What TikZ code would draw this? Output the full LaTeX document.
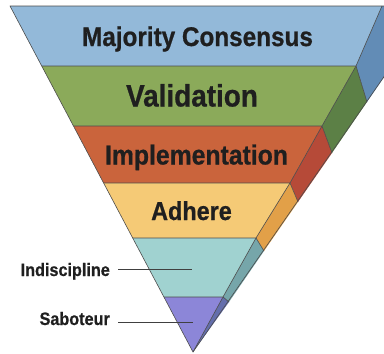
\documentclass[tikz,border=0pt]{standalone}
\usepackage{fontspec}
\usepackage{xcolor}
\usepackage{tikz}
\newfontfamily\tierfont{Liberation Sans}[FakeStretch=0.9, BoldFeatures={FakeBold=0.7}]

\definecolor{bluefront}{RGB}{147,185,217}
\definecolor{blueside}{RGB}{98,140,182}
\definecolor{greenfront}{RGB}{139,170,90}
\definecolor{greenside}{RGB}{92,128,70}
\definecolor{orangefront}{RGB}{202,100,60}
\definecolor{orangeside}{RGB}{182,74,56}
\definecolor{yellowfront}{RGB}{245,202,118}
\definecolor{yellowside}{RGB}{226,160,72}
\definecolor{tealfront}{RGB}{160,210,208}
\definecolor{tealside}{RGB}{118,166,170}
\definecolor{purplefront}{RGB}{140,134,216}
\definecolor{purpleside}{RGB}{100,110,172}

\begin{document}
\begin{tikzpicture}[x=1pt,y=-1pt,
            edge/.style={draw=black!70, line width=0.6pt, line join=round},
            leader/.style={draw=black!75, line width=0.9pt},
            tier/.style={font=\tierfont\bfseries\fontsize{#1}{#1}\selectfont, text=black!88, inner sep=0pt, anchor=base}]
				\useasboundingbox (0,0) rectangle (384,354);
				\clip (0,0) rectangle (384,354);

				% left edge, front right edge, outer edge
				\coordinate (L0) at (10,6);    \coordinate (F0) at (382,6);   \coordinate (O0) at (433,6);
				\coordinate (L1) at (41.7,66); \coordinate (F1) at (356,66);  \coordinate (O1) at (367,102);
				\coordinate (L2) at (73.5,126);\coordinate (F2) at (322,126); \coordinate (O2) at (332,153);
				\coordinate (L3) at (103.6,183);\coordinate (F3) at (290,183);\coordinate (O3) at (298,202);
				\coordinate (L4) at (132.7,238);\coordinate (F4) at (256,238);\coordinate (O4) at (264,251);
				\coordinate (L5) at (164,297); \coordinate (F5) at (223,297);  \coordinate (O5) at (229,302);
				\coordinate (A) at (193,352);

				\fill[bluefront] (L0) -- (F0) -- (F1) -- (L1) -- cycle;
				\fill[greenfront] (L1) -- (F1) -- (F2) -- (L2) -- cycle;
				\fill[orangefront] (L2) -- (F2) -- (F3) -- (L3) -- cycle;
				\fill[yellowfront] (L3) -- (F3) -- (F4) -- (L4) -- cycle;
				\fill[tealfront] (L4) -- (F4) -- (F5) -- (L5) -- cycle;
				\fill[purplefront] (L5) -- (F5) -- (A) -- cycle;

				\fill[blueside] (F0) -- (F1) -- (O1) -- (O0) -- cycle;
				\fill[greenside] (F1) -- (F2) -- (O2) -- (O1) -- cycle;
				\fill[orangeside] (F2) -- (F3) -- (O3) -- (O2) -- cycle;
				\fill[yellowside] (F3) -- (F4) -- (O4) -- (O3) -- cycle;
				\fill[tealside] (F4) -- (F5) -- (O5) -- (O4) -- cycle;
				\fill[purpleside] (F5) -- (A) -- (O5) -- cycle;

				\draw[edge] (L1) -- (F1) -- (O1);
				\draw[edge] (L2) -- (F2) -- (O2);
				\draw[edge] (L3) -- (F3) -- (O3);
				\draw[edge] (L4) -- (F4) -- (O4);
				\draw[edge] (L5) -- (F5) -- (O5);
				\draw[edge] (O0) -- (F0) -- (L0) -- (A) -- (O0);
				\draw[edge] (F0) -- (F1) -- (F2) -- (F3) -- (F4) -- (F5) -- (A);

				\node[tier=27] (consensus) at (197.5,46) {Majority Consensus};
				\node[tier=31] (validation) at (192,106.5) {Validation};
				\node[tier=27.5] (implementation) at (196.5,164.5) {Implementation};
				\node[tier=26] (adhere) at (191.5,220) {Adhere};

				\node[tier=18, anchor=base east] (indiscipline) at (110,276) {Indiscipline};
				\node[tier=18, anchor=base east] (saboteur) at (110,325) {Saboteur};
				\coordinate (indisciplineend) at (192,269);
				\coordinate (saboteurend) at (193,322);
				\draw[leader] ([xshift=8pt]indiscipline.east |- indisciplineend) -- (indisciplineend);
				\draw[leader] ([xshift=8pt]saboteur.east |- saboteurend) -- (saboteurend);
 		\end{tikzpicture}
\end{document}
